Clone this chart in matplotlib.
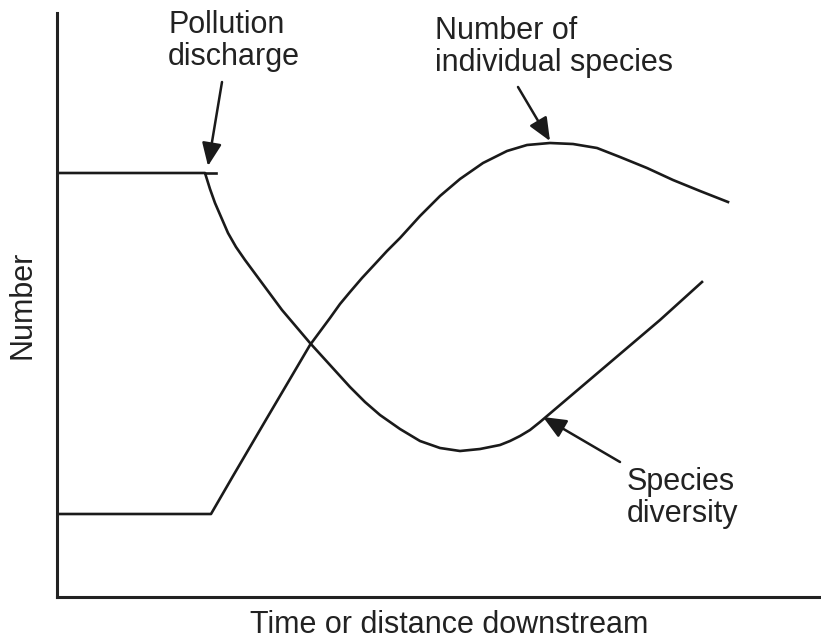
import matplotlib as mpl
mpl.use('Agg')
from matplotlib import pyplot as plt

# curves (x = distance downstream, y = number)
div_x = [0, 148, 153, 158, 171, 179, 188, 205, 225, 253, 273, 293, 308, 323, 343, 363, 383,
         403, 423, 443, 453, 463, 473, 483, 503, 523, 563, 603, 645]
div_y = [424, 424, 408, 394, 364, 350, 337, 314, 287, 254, 232, 210, 195, 182, 168, 156, 149,
         146, 148, 152, 156, 161, 167, 175, 192, 209, 243, 277, 315]

num_x = [0, 154, 176, 210, 233, 253, 273, 283, 293, 305, 318, 330, 343, 363, 383, 403, 426,
         450, 470, 493, 516, 540, 563, 590, 616, 643, 671]
num_y = [83, 83, 121, 179, 218, 252, 279, 293, 305, 319, 333, 346, 359, 381, 401, 418, 434,
         446, 452, 454, 453, 449, 440, 429, 417, 406, 395]

plateau_end = 159

fig = plt.figure(figsize=(8.21, 6.39), dpi=100)
ax = fig.add_axes([57 / 821, (639 - 597) / 639, (821 - 57) / 821, (597 - 13) / 639])
ax.set_xlim(0, 764)
ax.set_ylim(0, 584)

lc = '#1a1a1a'
lw = 1.9
ax.plot(div_x, div_y, color=lc, lw=lw, solid_joinstyle='round')
ax.plot(num_x, num_y, color=lc, lw=lw, solid_joinstyle='round')
# top plateau runs a little past the kink
ax.plot([div_x[1], plateau_end], [div_y[1], div_y[1]], color=lc, lw=lw)

for s in ['top', 'right']:
    ax.spines[s].set_visible(False)
for s in ['left', 'bottom']:
    ax.spines[s].set_linewidth(2.2)
    ax.spines[s].set_color('#222222')
ax.set_xticks([])
ax.set_yticks([])

fs = 22
font = 'Liberation Sans'
tc = '#222222'
ax.set_xlabel('Time or distance downstream', fontsize=fs, family=font, color=tc)
ax.xaxis.set_label_coords(0.513, -0.023)
ax.set_ylabel('Number', fontsize=fs, family=font, color=tc)
ax.yaxis.set_label_coords(-0.026, 0.5)

aprops = dict(arrowstyle='-|>,head_length=0.7,head_width=0.3', color=lc, lw=1.8,
              shrinkA=0, shrinkB=0, mutation_scale=20)
ls = 1.12
ax.annotate('', xy=(151, 431), xytext=(165, 515), arrowprops=aprops)
ax.text(111, 556, 'Pollution\ndischarge', ha='left', va='center', fontsize=fs,
        family=font, color=tc, linespacing=ls)

ax.annotate('', xy=(493, 456), xytext=(461, 510), arrowprops=aprops)
ax.text(378, 550, 'Number of\nindividual species', ha='left', va='center', fontsize=fs,
        family=font, color=tc, linespacing=ls)

ax.annotate('', xy=(486, 180), xytext=(563, 135), arrowprops=aprops)
ax.text(570, 99, 'Species\ndiversity', ha='left', va='center', fontsize=fs,
        family=font, color=tc, linespacing=ls)

fig.savefig('out.png', dpi=100)
